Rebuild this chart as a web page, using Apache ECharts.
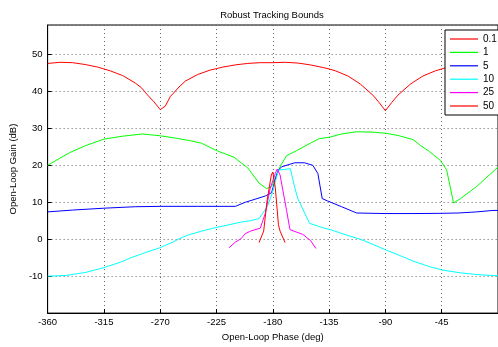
<!DOCTYPE html>
<html>
<head>
<meta charset="utf-8">
<style>
  html, body { margin: 0; padding: 0; background: #fff; }
  #chart { width: 498px; height: 347px; }
</style>
<script src="https://cdn.jsdelivr.net/npm/echarts@6/dist/echarts.min.js"></script>
</head>
<body>
<div id="chart"></div>
<script>
// Tracking bounds per frequency (rad/s): [open-loop phase (deg), open-loop gain (dB)]
var bound_0_1 = [
  [-360, 47.6], [-350, 47.9], [-340, 47.8], [-330, 47.3], [-320, 46.6], [-315, 46.1],
  [-310, 45.6], [-300, 44.3], [-290, 42.3], [-285, 41.0], [-280, 39.0], [-275, 37.2],
  [-270, 35.1], [-266, 36.0], [-262, 38.6], [-255, 41.2], [-250, 42.8], [-240, 44.6],
  [-230, 45.8], [-225, 46.2], [-220, 46.6], [-210, 47.2], [-200, 47.6], [-190, 47.8],
  [-180, 47.8], [-170, 47.9], [-160, 47.7], [-150, 47.2], [-140, 46.5], [-135, 46.1],
  [-130, 45.6], [-120, 44.2], [-110, 42.0], [-100, 39.0], [-95, 37.0], [-90, 34.8],
  [-85, 37.0], [-80, 39.0], [-70, 42.0], [-60, 44.2], [-50, 45.6], [-45, 46.1],
  [-40, 46.6], [-30, 47.2], [-20, 47.6], [-10, 47.8], [0, 47.8]
];
var bound_1 = [
  [-360, 20.0], [-350, 22.0], [-342, 23.5], [-330, 25.3], [-315, 27.1], [-300, 27.9],
  [-284, 28.5], [-270, 28.0], [-258, 27.4], [-245, 26.6], [-237, 26.0], [-225, 24.0],
  [-211, 22.2], [-200, 19.3], [-191, 15.2], [-185, 13.7], [-181, 14.3], [-178, 16.5],
  [-175.5, 18.7], [-173, 20.4], [-169, 22.6], [-161, 24.0], [-150, 26.0], [-143, 27.2],
  [-135, 27.6], [-125, 28.5], [-113, 29.1], [-100, 29.0], [-90, 28.7], [-80, 28.1],
  [-68, 27.0], [-62, 25.4], [-55, 23.8], [-46, 21.3], [-41, 18.7], [-35.5, 9.8],
  [-30, 11.0], [-17, 14.3], [-4, 18.3], [0, 19.5]
];
var bound_5 = [
  [-360, 7.4], [-340, 7.9], [-315, 8.4], [-290, 8.8], [-270, 8.9], [-240, 8.9],
  [-210, 8.9], [-202, 10.0], [-186, 11.7], [-181, 12.6], [-177, 17.4], [-175.5, 18.7],
  [-173, 19.6], [-162.5, 20.7], [-154.6, 20.7], [-148, 20.0], [-144, 17.8], [-140.5, 11.0],
  [-136.5, 10.4], [-125, 8.8], [-113, 7.1], [-90, 6.95], [-68, 6.95], [-48, 7.0],
  [-32, 7.1], [-17, 7.4], [-4, 7.8], [0, 7.8]
];
var bound_10 = [
  [-360, -10.0], [-345, -9.8], [-330, -9.0], [-315, -7.7], [-300, -6.0], [-295, -5.2],
  [-280, -3.4], [-271, -2.4], [-260, -0.8], [-255, 0.1], [-248, 1.1], [-237, 2.2],
  [-225, 3.2], [-215, 3.9], [-206, 4.6], [-198, 5.0], [-191, 5.6], [-184.6, 8.7],
  [-180.7, 12.2], [-175.5, 18.7], [-174, 19.1], [-166, 19.1], [-162.4, 13.9], [-160, 11.0],
  [-150.6, 4.3], [-139, 3.0], [-134, 2.6], [-120, 1.0], [-110, 0.0], [-100, -1.4],
  [-89, -3.0], [-80, -4.2], [-68, -5.9], [-55, -7.4], [-45, -8.3], [-30, -9.1],
  [-16, -9.6], [0, -9.9]
];
var bound_25 = [
  [-215, -2.3], [-210, -0.8], [-205.6, 0.1], [-202, 1.5], [-197.8, 2.2], [-190, 3.0],
  [-186, 7.0], [-182, 13.9], [-178, 17.8], [-176.5, 19.0], [-174.2, 17.4], [-169, 7.8],
  [-166.3, 2.6], [-156, 1.3], [-150, -0.3], [-145.5, -2.5]
];
var bound_50 = [
  [-191, -0.9], [-187.3, 2.2], [-184.6, 10.4], [-181.2, 17.4], [-180, 18.2],
  [-178, 13.9], [-175.5, 3.9], [-174.2, 2.2], [-170.2, -0.9]
];

var seriesNames = ['0.1', '1', '5', '10', '25', '50'];
var seriesData = [bound_0_1, bound_1, bound_5, bound_10, bound_25, bound_50];
var seriesColors = ['#ff0000', '#00ff00', '#0000ff', '#00ffff', '#ff00ff', '#ff0000'];

var chart = echarts.init(document.getElementById('chart'), null, { renderer: 'canvas' });
var fontFamily = '"Liberation Sans", Arial, sans-serif';

var series = seriesNames.map(function (name, i) {
  return {
    name: name,
    type: 'line',
    data: seriesData[i],
    showSymbol: false,
    symbol: 'none',
    animation: false,
    lineStyle: { color: seriesColors[i], width: 1 },
    itemStyle: { color: seriesColors[i] }
  };
});

chart.setOption({
  backgroundColor: '#ffffff',
  animation: false,
  title: {
    text: 'Robust Tracking Bounds',
    left: 272, top: 10, padding: 0,
    textAlign: 'center',
    textStyle: { fontFamily: fontFamily, fontSize: 9.5, fontWeight: 'normal', color: '#000' }
  },
  grid: {
    left: 43, top: 25, right: -4, bottom: 24,
    show: true, borderColor: '#000', borderWidth: 1, backgroundColor: '#fff'
  },
  legend: {
    orient: 'vertical',
    left: 445, top: 30,
    padding: [3, 6, 3, 5],
    backgroundColor: '#fff',
    borderColor: '#000', borderWidth: 1,
    itemWidth: 28, itemHeight: 1.2, itemGap: 1.4,
    icon: 'rect',
    textStyle: { fontFamily: fontFamily, fontSize: 10, color: '#000', lineHeight: 12 }
  },
  xAxis: {
    type: 'value',
    min: -360, max: 0, interval: 45,
    name: 'Open-Loop Phase (deg)',
    nameLocation: 'middle', nameGap: 12,
    nameTextStyle: { fontFamily: fontFamily, fontSize: 9.5, color: '#000' },
    axisLine: { show: true, onZero: false, lineStyle: { color: '#000', width: 1 } },
    axisTick: { show: true, inside: true, length: 4, lineStyle: { color: '#000' } },
    axisLabel: { fontFamily: fontFamily, fontSize: 9.5, color: '#000', margin: 4, showMaxLabel: false },
    splitLine: { show: true, lineStyle: { color: '#666', type: [1, 3], width: 1 } }
  },
  yAxis: {
    type: 'value',
    min: -20, max: 58, interval: 10,
    name: 'Open-Loop Gain (dB)',
    nameLocation: 'middle', nameGap: 19,
    nameTextStyle: { fontFamily: fontFamily, fontSize: 9.5, color: '#000' },
    axisLine: { show: true, onZero: false, lineStyle: { color: '#000', width: 1 } },
    axisTick: { show: true, inside: true, length: 4, lineStyle: { color: '#000' } },
    axisLabel: { fontFamily: fontFamily, fontSize: 9.5, color: '#000', margin: 5, showMinLabel: false, showMaxLabel: false },
    splitLine: { show: true, lineStyle: { color: '#666', type: [1, 3], width: 1 } }
  },
  series: series
});
</script>
</body>
</html>
